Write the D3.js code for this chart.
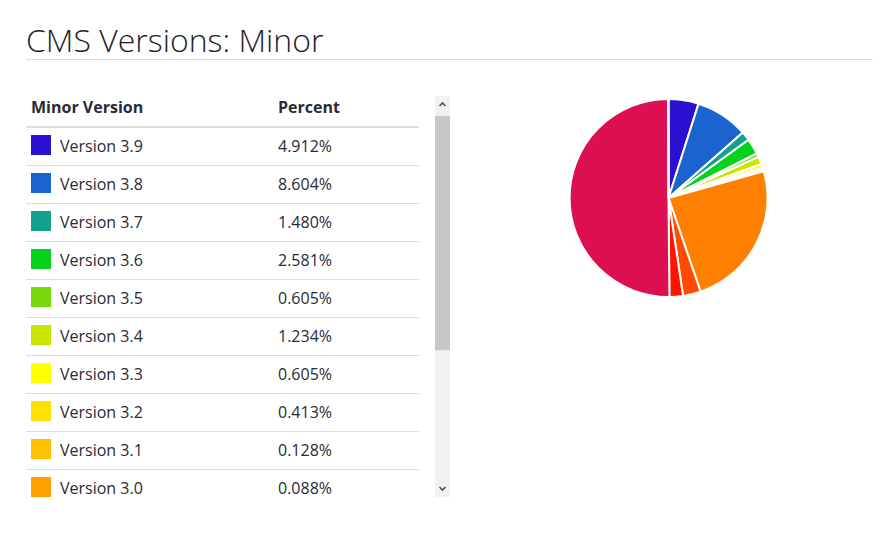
<!DOCTYPE html>
<html>
<head>
<meta charset="utf-8">
<script src="https://cdn.jsdelivr.net/npm/d3@7"></script>
<style>
  body { margin: 0; background: #fff; font-family: "Open Sans", sans-serif; color: #2a2a35; }
  #title {
    position: absolute; left: 26px; top: 21px; width: 847px;
    font-size: 32px; font-weight: 300; color: #1e1e28; line-height: 38px;
    border-bottom: 1px solid #ddd; margin: 0;
  }
  #table-wrap {
    position: absolute; left: 26px; top: 96px; width: 408px; height: 401px;
  }
  table { border-collapse: collapse; width: 393px; font-size: 16px; }
  th { text-align: left; font-weight: 700; padding: 2px 5px 10px; line-height: 18px; border-bottom: 2px solid #ddd; }
  td { padding: 0 5px 2px; height: 35px; line-height: 18px; border-bottom: 1px solid #ddd; vertical-align: middle; }
  tr:last-child td { border-bottom: none; }
  td.name { width: 208px; position: relative; padding-left: 34px; }
  .swatch { position: absolute; left: 5px; top: 7px; width: 20px; height: 20px; }
  #scroll { position: absolute; left: 435px; top: 96px; }
  #pie { position: absolute; left: 560px; top: 90px; }
</style>
</head>
<body>
<h1 id="title">CMS Versions: Minor</h1>
<div id="table-wrap"></div>
<svg id="scroll" width="15" height="401"></svg>
<svg id="pie" width="220" height="220"></svg>
<script>
// data ++++++++++++++++++++++++++++++++++++++++++
const versions = ["Version 3.9", "Version 3.8", "Version 3.7", "Version 3.6", "Version 3.5",
  "Version 3.4", "Version 3.3", "Version 3.2", "Version 3.1", "Version 3.0",
  "Version 2.5", "Version 1.7", "Version 1.6", "Version 1.5", "Version 1.0", "Other"];
const percents = [4.912, 8.604, 1.480, 2.581, 0.605, 1.234, 0.605, 0.413, 0.128, 0.088,
  24.100, 2.900, 2.200, 50.080, 0.040, 0.030];
const colors = ["#2c10d2", "#1b64cf", "#12a08f", "#05d21a", "#78d80c", "#c8e600", "#ffff00",
  "#ffe100", "#ffc000", "#ff9f00", "#ff7f00", "#ff4a00", "#ff1400", "#dc0f50", "#d40c6a", "#c80c80"];
const visibleRows = 10; // rows shown before scrolling
// data ------------------------------------------

const rows = versions.map((v, i) => ({ name: v, value: percents[i], color: colors[i] }));

// Table (only the rows visible in the scroll box)
const table = d3.select("#table-wrap").append("table");
table.append("thead").append("tr")
  .selectAll("th")
  .data(["Minor Version", "Percent"])
  .enter()
  .append("th")
  .text(d => d);

const tr = table.append("tbody")
  .selectAll("tr")
  .data(rows.slice(0, visibleRows))
  .enter()
  .append("tr");

const nameCell = tr.append("td").attr("class", "name");
nameCell.append("span").attr("class", "swatch").style("background", d => d.color);
nameCell.append("span").text(d => d.name);
tr.append("td").text(d => d.value.toFixed(3) + "%");

// Scrollbar drawn by hand, thumb sized from the row count
const boxH = 401, btn = 12, headH = 32, rowH = 38;
const contentH = headH + rows.length * rowH;
const trackLen = boxH - 2 * btn;
const thumbLen = trackLen * boxH / contentH;
const sb = d3.select("#scroll");
sb.append("rect").attr("width", 15).attr("height", boxH).attr("fill", "#f1f1f1");
sb.append("rect").attr("x", 0).attr("y", btn + 8).attr("width", 15).attr("height", thumbLen - 2).attr("fill", "#c6c6c6");
sb.append("path").attr("d", "M4.5,10 L7.5,7 L10.5,10").attr("fill", "none").attr("stroke", "#505050").attr("stroke-width", 1.6);
sb.append("path").attr("d", `M4.5,${boxH - 10} L7.5,${boxH - 7} L10.5,${boxH - 10}`).attr("fill", "none").attr("stroke", "#505050").attr("stroke-width", 1.6);

// Pie
const radius = 99;
const svg = d3.select("#pie");
const g = svg.append("g").attr("transform", "translate(108.5,108)");

const pie = d3.pie().sort(null).value(d => d.value);
const arc = d3.arc().innerRadius(0).outerRadius(radius);

g.selectAll("path")
  .data(pie(rows))
  .enter()
  .append("path")
  .attr("d", arc)
  .attr("fill", d => d.data.color)
  .attr("stroke", "#fff")
  .attr("stroke-width", 2)
  .attr("stroke-linejoin", "round");
</script>
</body>
</html>
